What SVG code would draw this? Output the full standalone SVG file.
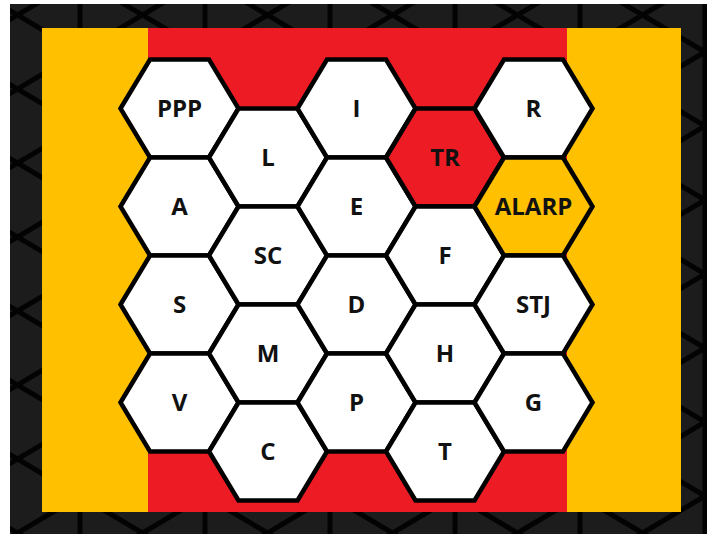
<svg xmlns="http://www.w3.org/2000/svg" xmlns:xlink="http://www.w3.org/1999/xlink" width="713" height="534" viewBox="0 0 713 534">
  <style>
    .hex { stroke: #000; stroke-width: 4.5; }
    .white { fill: #ffffff; }
    .red { fill: #ED1C24; }
    .gold { fill: #FFC000; }
    .lbl { font-family: "Open Sans", "Liberation Sans", sans-serif; font-weight: 700; font-size: 24px; fill: #111; text-anchor: middle; }
  </style>
  <defs>
    <pattern id="tri" patternUnits="userSpaceOnUse" x="80" y="-22" width="125" height="148">
      <rect width="125" height="148" fill="#1c1c1c"/>
      <g stroke="#030303" stroke-width="5" fill="none">
        <line x1="0" y1="-10" x2="0" y2="158"/>
        <line x1="125" y1="-10" x2="125" y2="158"/>
        <line x1="-12.5" y1="-7.4" x2="137.5" y2="81.4"/>
        <line x1="-12.5" y1="66.6" x2="137.5" y2="155.4"/>
        <line x1="-12.5" y1="81.4" x2="137.5" y2="-7.4"/>
        <line x1="-12.5" y1="155.4" x2="137.5" y2="66.6"/>
        <line x1="-137.5" y1="7.4" x2="12.5" y2="-81.4"/>
        <line x1="112.5" y1="155.4" x2="262.5" y2="66.6"/>
      </g>
    </pattern>
    <polygon id="hex" points="-59,0 -29.5,-49 29.5,-49 59,0 29.5,49 -29.5,49"/>
  </defs>

  <g id="background">
    <rect x="10" y="4" width="697" height="530" fill="url(#tri)"/>
    <rect x="42" y="28" width="639" height="484" fill="#FFC000"/>
    <rect x="148" y="28" width="419" height="484" fill="#ED1C24"/>
  </g>

  <g id="connectors"></g>

  <g id="PPP"><use xlink:href="#hex" href="#hex" class="hex white" x="179.5" y="108.5"/><text class="lbl" x="179.5" y="117">PPP</text></g>
  <g id="A"><use xlink:href="#hex" href="#hex" class="hex white" x="179.5" y="206.5"/><text class="lbl" x="179.5" y="215">A</text></g>
  <g id="S"><use xlink:href="#hex" href="#hex" class="hex white" x="179.5" y="304.5"/><text class="lbl" x="179.5" y="313">S</text></g>
  <g id="V"><use xlink:href="#hex" href="#hex" class="hex white" x="179.5" y="402.5"/><text class="lbl" x="179.5" y="411">V</text></g>

  <g id="L"><use xlink:href="#hex" href="#hex" class="hex white" x="268" y="157.5"/><text class="lbl" x="268" y="166">L</text></g>
  <g id="SC"><use xlink:href="#hex" href="#hex" class="hex white" x="268" y="255.5"/><text class="lbl" x="268" y="264">SC</text></g>
  <g id="M"><use xlink:href="#hex" href="#hex" class="hex white" x="268" y="353.5"/><text class="lbl" x="268" y="362">M</text></g>
  <g id="C"><use xlink:href="#hex" href="#hex" class="hex white" x="268" y="451.5"/><text class="lbl" x="268" y="460">C</text></g>

  <g id="I"><use xlink:href="#hex" href="#hex" class="hex white" x="356.5" y="108.5"/><text class="lbl" x="356.5" y="117">I</text></g>
  <g id="E"><use xlink:href="#hex" href="#hex" class="hex white" x="356.5" y="206.5"/><text class="lbl" x="356.5" y="215">E</text></g>
  <g id="D"><use xlink:href="#hex" href="#hex" class="hex white" x="356.5" y="304.5"/><text class="lbl" x="356.5" y="313">D</text></g>
  <g id="P"><use xlink:href="#hex" href="#hex" class="hex white" x="356.5" y="402.5"/><text class="lbl" x="356.5" y="411">P</text></g>

  <g id="TR"><use xlink:href="#hex" href="#hex" class="hex red" x="445" y="157.5"/><text class="lbl" x="445" y="166">TR</text></g>
  <g id="F"><use xlink:href="#hex" href="#hex" class="hex white" x="445" y="255.5"/><text class="lbl" x="445" y="264">F</text></g>
  <g id="H"><use xlink:href="#hex" href="#hex" class="hex white" x="445" y="353.5"/><text class="lbl" x="445" y="362">H</text></g>
  <g id="T"><use xlink:href="#hex" href="#hex" class="hex white" x="445" y="451.5"/><text class="lbl" x="445" y="460">T</text></g>

  <g id="R"><use xlink:href="#hex" href="#hex" class="hex white" x="533.5" y="108.5"/><text class="lbl" x="533.5" y="117">R</text></g>
  <g id="ALARP"><use xlink:href="#hex" href="#hex" class="hex gold" x="533.5" y="206.5"/><text class="lbl" x="533.5" y="215">ALARP</text></g>
  <g id="STJ"><use xlink:href="#hex" href="#hex" class="hex white" x="533.5" y="304.5"/><text class="lbl" x="533.5" y="313">STJ</text></g>
  <g id="G"><use xlink:href="#hex" href="#hex" class="hex white" x="533.5" y="402.5"/><text class="lbl" x="533.5" y="411">G</text></g>
</svg>
